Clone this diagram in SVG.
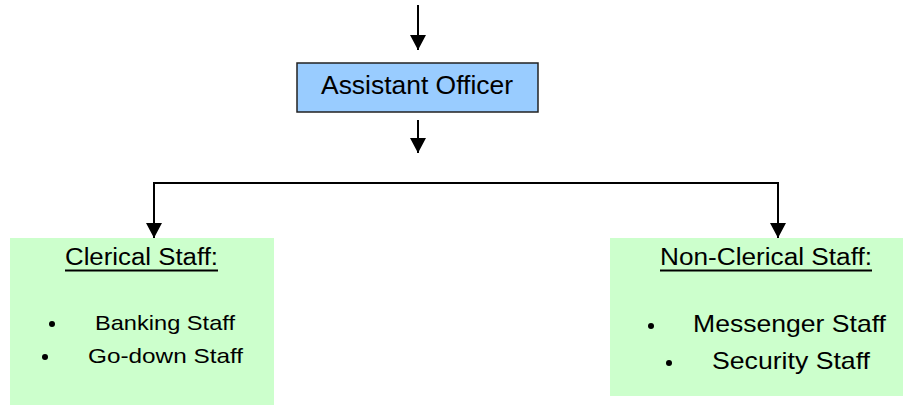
<svg xmlns="http://www.w3.org/2000/svg" width="907" height="406" viewBox="0 0 907 406">
<defs>
<marker id="ah" markerUnits="userSpaceOnUse" markerWidth="16" markerHeight="16" refX="15" refY="8" orient="auto">
<path d="M0,0 L15,8 L0,16 Z" fill="#000"/>
</marker>
<style>
text{font-family:"Liberation Sans",Arial,sans-serif;fill:#000}
.conn{fill:none;stroke:#000;stroke-width:2}
.green{fill:#CCFFCC}
.u{stroke:#000;stroke-width:2}
</style>
</defs>
<rect width="907" height="406" fill="#fff"/>
<g id="connectors">
<line class="conn" x1="418" y1="5" x2="418" y2="50" marker-end="url(#ah)"/>
<line class="conn" x1="418" y1="120" x2="418" y2="153" marker-end="url(#ah)"/>
<polyline class="conn" points="154,238 154,183 778,183 778,238" marker-end="url(#ah)"/>
<line class="conn" x1="154" y1="190" x2="154" y2="238" marker-end="url(#ah)"/>
</g>
<g id="assistant-officer">
<rect x="297" y="63" width="241" height="49" fill="#99CCFF" stroke="#222" stroke-width="1.5"/>
<text x="321" y="94" font-size="25" textLength="192" lengthAdjust="spacingAndGlyphs">Assistant Officer</text>
</g>
<g id="clerical-staff">
<rect class="green" x="10" y="238" width="264" height="167"/>
<text x="65" y="265" font-size="23" textLength="153" lengthAdjust="spacingAndGlyphs">Clerical Staff:</text>
<line class="u" x1="65" y1="270.5" x2="218" y2="270.5"/>
<circle cx="52" cy="324" r="3"/>
<text x="95" y="330" font-size="21" textLength="140" lengthAdjust="spacingAndGlyphs">Banking Staff</text>
<circle cx="45" cy="357" r="3"/>
<text x="88" y="363" font-size="21" textLength="155" lengthAdjust="spacingAndGlyphs">Go-down Staff</text>
</g>
<g id="non-clerical-staff">
<rect class="green" x="610" y="238" width="293" height="158"/>
<text x="660" y="265" font-size="23" textLength="212" lengthAdjust="spacingAndGlyphs">Non-Clerical Staff:</text>
<line class="u" x1="660" y1="270.5" x2="872" y2="270.5"/>
<circle cx="651" cy="326" r="3"/>
<text x="693" y="332" font-size="24" textLength="193" lengthAdjust="spacingAndGlyphs">Messenger Staff</text>
<circle cx="669" cy="363" r="3"/>
<text x="712" y="369" font-size="24" textLength="158" lengthAdjust="spacingAndGlyphs">Security Staff</text>
</g>
</svg>
